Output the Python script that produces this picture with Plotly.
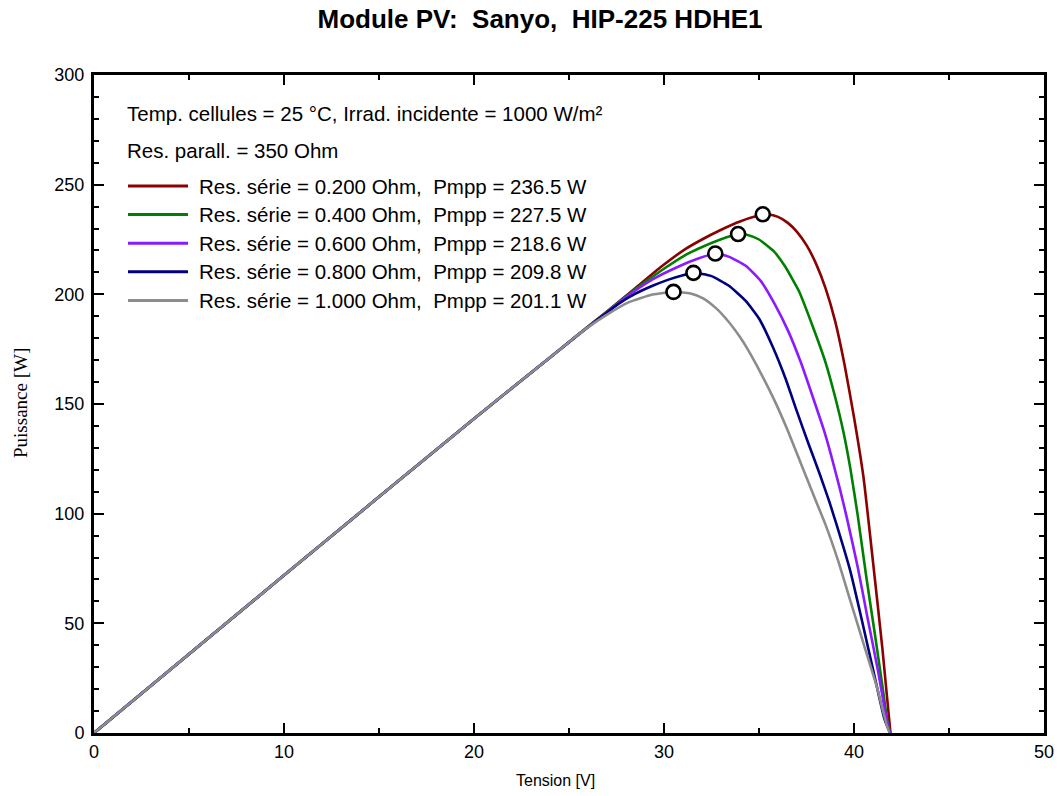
import plotly.graph_objects as go

# ---------------- data ----------------
title_text = "Module PV:  Sanyo,  HIP-225 HDHE1"
header_lines = ["Temp. cellules = 25 °C, Irrad. incidente = 1000 W/m²",
                "Res. parall. = 350 Ohm"]

rs_values = [0.200, 0.400, 0.600, 0.800, 1.000]
pmpp_values = [236.5, 227.5, 218.6, 209.8, 201.1]
vmpp_values = [35.2, 33.9, 32.7, 31.55, 30.5]
colors = ["#8b0000", "#008000", "#8c1aff", "#000080", "#8c8c8c"]

v_red = [0, 10, 20, 24, 25.4, 27, 28.5, 29.9, 31.1, 32.0, 32.9, 34.0, 35.0,
         35.5, 36.0, 36.5, 37.0, 37.5, 38.0, 38.5, 39.0, 39.5, 40.0, 40.5,
         41.0, 41.5, 41.92]
p_red = [0, 71.9, 143.3, 171.2, 181.1, 192.2, 202.9, 212.9, 220.5, 225.0,
         229.0, 233.2, 235.9, 236.4, 235.3, 232.7, 228.5, 222.4, 214.0, 202.8,
         188.0, 168.0, 144.0, 116.6, 78.0, 38.0, 0]

v_green = [0, 10, 20, 24, 25.4, 27, 28.5, 29.9, 31.1, 31.8, 32.9, 33.9, 34.4,
           35.0, 35.76, 36.35, 37.1, 37.8, 38.5, 39.0, 39.45, 39.8, 40.2,
           40.65, 41.1, 41.5, 41.75, 41.9]
p_green = [0, 71.9, 143.3, 171.2, 181.1, 192.1, 202.4, 211.1, 217.8, 220.8,
           224.8, 227.5, 227.1, 225.0, 219.8, 213.0, 201.5, 186.0, 169.0,
           153.4, 137.0, 121.0, 99.0, 71.0, 45.0, 21.1, 6.0, 0]

v_purple = [0, 10, 20, 24, 25.4, 27, 28.1, 29.4, 30.8, 31.8, 32.7, 33.4, 34.3,
            35.1, 35.8, 36.55, 37.2, 37.8, 38.4, 38.8, 39.25, 39.6, 40.2, 40.7,
            41.25, 41.7, 41.9]
p_purple = [0, 71.9, 143.3, 171.2, 181.0, 191.8, 199.3, 206.8, 212.8, 216.3,
            218.6, 217.2, 213.0, 206.0, 196.0, 183.0, 169.0, 154.0, 138.5,
            126.5, 111.5, 99.0, 75.5, 53.0, 29.0, 7.0, 0]

v_blue = [0, 10, 20, 24, 25.4, 26.5, 27.6, 28.5, 29.4, 30.2, 31.0, 31.55,
          32.5, 33.4, 34.3, 35.0, 35.75, 36.4, 37.0, 37.6, 38.2, 38.7, 39.1,
          39.8, 40.4, 41.0, 41.6, 41.9]
p_blue = [0, 71.9, 143.3, 171.2, 180.9, 188.4, 195.6, 200.3, 203.9, 206.6,
          208.7, 209.8, 208.3, 204.0, 197.0, 189.0, 175.5, 161.5, 146.5, 132.0,
          118.0, 105.5, 94.5, 74.0, 52.0, 29.0, 6.5, 0]

v_gray = [0, 10, 20, 24, 25.3, 26.1, 26.9, 28.1, 29.4, 30.5, 31.4, 32.06,
          32.75, 33.4, 34.0, 34.4, 35.1, 35.8, 36.5, 37.2, 37.9, 38.5, 39.15,
          39.85, 40.55, 41.2, 41.7, 41.88]
p_gray = [0, 71.9, 143.3, 171.2, 180.3, 185.6, 190.2, 196.2, 199.9, 201.1,
          200.4, 198.2, 193.6, 187.5, 180.5, 175.0, 164.0, 151.9, 138.2, 123.0,
          107.8, 95.0, 78.9, 59.1, 39.4, 21.1, 4.4, 0]

x_title = "Tension [V]"
y_title = "Puissance [W]"

# ---------------- figure ----------------
series_v = [v_red, v_green, v_purple, v_blue, v_gray]
series_p = [p_red, p_green, p_purple, p_blue, p_gray]

SANS = "Liberation Sans, Arial, sans-serif"

fig = go.Figure()
for v, p, c, rs, pm in zip(series_v, series_p, colors, rs_values, pmpp_values):
    fig.add_trace(go.Scatter(
        x=v, y=p, mode="lines",
        line=dict(color=c, width=2.6, shape="spline", smoothing=0.5),
        name=f"Res. série = {rs:.3f} Ohm,  Pmpp = {pm:.1f} W",
        showlegend=False, hoverinfo="skip"))

fig.add_trace(go.Scatter(
    x=vmpp_values, y=pmpp_values, mode="markers",
    marker=dict(size=14, color="white", line=dict(color="black", width=2.6)),
    showlegend=False, hoverinfo="skip"))

# custom legend (paper coordinates of plot area)
W_PLOT, H_PLOT = 950.0, 658.0
txt_font = dict(family=SANS, size=20.5, color="black")
x_text0 = 34 / W_PLOT
header_y = [620 / H_PLOT, 583 / H_PLOT]
for txt, yy in zip(header_lines, header_y):
    fig.add_annotation(x=x_text0, y=yy, xref="paper", yref="paper", text=txt,
                       showarrow=False, xanchor="left", yanchor="middle",
                       xshift=-3, font=txt_font)

row0 = 547 / H_PLOT
row_step = 28.6 / H_PLOT
line_x0, line_x1 = 34 / W_PLOT, 94 / W_PLOT
label_x = 106 / W_PLOT
for i, (c, rs, pm) in enumerate(zip(colors, rs_values, pmpp_values)):
    yy = row0 - i * row_step
    fig.add_shape(type="line", xref="paper", yref="paper",
                  x0=line_x0, x1=line_x1, y0=yy, y1=yy,
                  line=dict(color=c, width=3))
    fig.add_annotation(x=label_x, y=yy, xref="paper", yref="paper",
                       text=f"Res. série = {rs:.3f} Ohm,  Pmpp = {pm:.1f} W",
                       showarrow=False, xanchor="left", yanchor="middle",
                       xshift=-3, font=txt_font)

# axis titles
fig.add_annotation(x=461 / W_PLOT, y=-47 / H_PLOT, xref="paper", yref="paper",
                   text=x_title, showarrow=False, xanchor="center",
                   yanchor="middle", font=dict(family=SANS, size=16, color="black"))
fig.add_annotation(x=-74 / W_PLOT, y=330 / H_PLOT, xref="paper", yref="paper",
                   text=y_title, showarrow=False, textangle=-90,
                   xanchor="center", yanchor="middle",
                   font=dict(family="Liberation Serif, Times New Roman, serif",
                             size=19, color="black"))

axis_common = dict(
    showline=True, linecolor="black", linewidth=3, mirror="allticks",
    ticks="inside", ticklen=10, tickwidth=2, tickcolor="black",
    showgrid=False, zeroline=False, automargin=False,
    tickfont=dict(family=SANS, size=18, color="black"),
)

fig.update_xaxes(range=[0, 50], tick0=0, dtick=10,
                 minor=dict(ticks="inside", ticklen=5, tickwidth=2, dtick=5,
                            tickcolor="black", showgrid=False),
                 **axis_common)
fig.update_yaxes(range=[0, 300], tick0=0, dtick=50, ticklabelstandoff=3,
                 minor=dict(ticks="inside", ticklen=5, tickwidth=2, dtick=10,
                            tickcolor="black", showgrid=False),
                 **axis_common)

fig.update_layout(
    width=1061, height=796,
    margin=dict(l=94, r=17, t=75, b=63, autoexpand=False),
    paper_bgcolor="white", plot_bgcolor="white",
    title=dict(text=f"<b>{title_text}</b>", x=540 / 1061, xanchor="center",
               y=1 - 19 / 796, yanchor="middle",
               font=dict(family=SANS, size=26, color="black")),
)

fig.write_html("out.html",
               config={"displayModeBar": False},
               post_script="document.body.style.margin='0';"
                           "document.body.style.padding='0';")
